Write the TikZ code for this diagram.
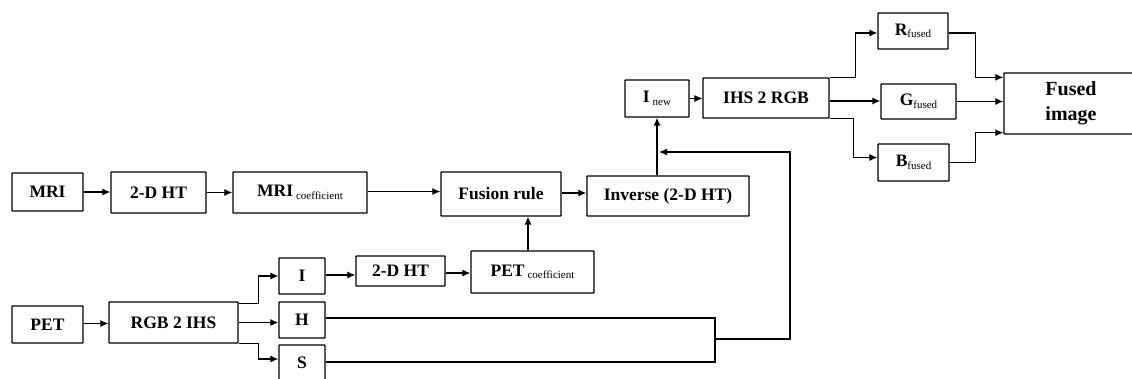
\documentclass[tikz,border=0pt]{standalone}
\usepackage{fontspec}
\setmainfont{Liberation Serif}
\usetikzlibrary{arrows.meta,calc}
\newcommand{\subtxt}[1]{\raisebox{-2.5pt}{\fontsize{11}{11}\selectfont\mdseries #1}}
\begin{document}
\begin{tikzpicture}[x=1pt,y=-1pt,
  box/.style={draw, line width=1.3pt, rounded corners=0.6pt, inner sep=0pt,
    font=\fontsize{17.5}{20}\selectfont\bfseries, align=center},
  arr/.style={-{Latex[length=8pt,width=7pt]}, line width=1.2pt},
  ln/.style={line width=1.2pt}]
\useasboundingbox (0,0) rectangle (1132,378);
\clip (0,0) rectangle (1132,378);
% top chain
\node[box, minimum width=71pt, minimum height=38pt] (mri) at (47.5,192) {MRI};
\node[box, minimum width=95pt, minimum height=41pt] (ht1) at (158.5,192.5) {2-D HT};
\node[box, minimum width=134pt, minimum height=41pt] (mric) at (300,192.5) {MRI\,\subtxt{coefficient}};
\node[box, minimum width=120pt, minimum height=44pt] (fus) at (501,194) {Fusion rule};
\node[box, minimum width=162pt, minimum height=40pt] (inv) at (668,196) {Inverse (2-D HT)};
\node[box, minimum width=64pt, minimum height=37pt] (inew) at (657,98.5) {I\,\subtxt{new}};
\node[box, minimum width=126pt, minimum height=40pt] (rgb) at (766,98) {IHS 2 RGB};
\node[box, minimum width=70pt, minimum height=36pt] (R) at (913,31) {R\subtxt{fused}};
\node[box, minimum width=75pt, minimum height=35pt] (G) at (918.5,101.5) {G\subtxt{fused}};
\node[box, minimum width=71pt, minimum height=37pt] (B) at (913.5,162.5) {B\subtxt{fused}};
\node[box, minimum width=134pt, minimum height=61pt, font=\fontsize{20}{25}\selectfont\bfseries] (fimg) at (1071,103.5) {Fused\\image};
% bottom chain
\node[box, minimum width=71pt, minimum height=37pt] (pet) at (47.5,324.5) {PET};
\node[box, minimum width=129pt, minimum height=41pt] (ihs) at (173.5,322.5) {RGB 2 IHS};
\node[box, minimum width=46pt, minimum height=36pt] (I) at (302,276) {I};
\node[box, minimum width=46pt, minimum height=36pt] (H) at (302,320) {H};
\node[box, minimum width=46pt, minimum height=36pt] (S) at (302,363) {S};
\node[box, minimum width=89pt, minimum height=30pt] (ht2) at (400.5,271) {2-D HT};
\node[box, minimum width=123pt, minimum height=42pt] (petc) at (532.5,272) {PET\,\subtxt{coefficient}};
% connectors top
\draw[arr] (mri.east) -- (mri.east -| ht1.west);
\draw[arr] (ht1.east) -- (ht1.east -| mric.west);
\draw[arr] ([yshift=1pt]mric.east) -- ([yshift=1pt]mric.east -| fus.west);
\draw[arr] ([yshift=1pt]fus.east) -- ([yshift=1pt]fus.east -| inv.west);
\draw[arr] ([xshift=-4.5pt]petc.north) -- ([xshift=-4.5pt]petc.north |- fus.south);
\draw[arr] (inew.south |- inv.north) -- (inew.south);
\draw[arr] (inew.east) -- (inew.east -| rgb.west);
\draw[arr] (rgb.north east) -- ++(26,0) |- ([yshift=-2pt]R.west);
\draw[arr] ([yshift=-3pt]rgb.east) -- ([yshift=-3pt]rgb.east -| G.west);
\draw[arr] (rgb.south east) -- ++(24,0) |- ([yshift=5pt]B.west);
\draw[arr] ([yshift=-2pt]R.east) -- ++(27,0) |- ([yshift=-5pt]fimg.north west);
\draw[arr] (G.east) -- (G.east -| fimg.west);
\draw[arr] (B.east) -- ++(26,0) |- ([yshift=2pt]fimg.south west);
% connectors bottom
\draw[arr] ([yshift=1pt]pet.east) -- ([yshift=1pt]pet.east -| ihs.west);
\draw[arr] ([yshift=-2pt]ihs.north east) -- ++(20,0) |- (I.west);
\draw[arr] (ihs.east) -- (ihs.east -| H.west);
\draw[arr] (ihs.south east) -- ++(20,0) |- ([yshift=4pt]S.west);
\draw[arr] ([yshift=1pt]I.east) -- ([yshift=1pt]I.east -| ht2.west);
\draw[arr] ([yshift=-2pt]ht2.east) -- ([yshift=-2pt]ht2.east -| petc.west);
% feedback of H and S
\coordinate (bt) at (715,318);
\coordinate (bm) at (715,339);
\coordinate (fr) at (790,339);
\coordinate (j) at (657,152);
\draw[ln] ([yshift=2pt]H.east) -- ([yshift=2pt]H.east -| bt) -- ([yshift=1pt]S.east -| bt) -- ([yshift=1pt]S.east);
\draw[arr, shorten >=2pt] (bm) -- (fr) |- (j);
\end{tikzpicture}
\end{document}
